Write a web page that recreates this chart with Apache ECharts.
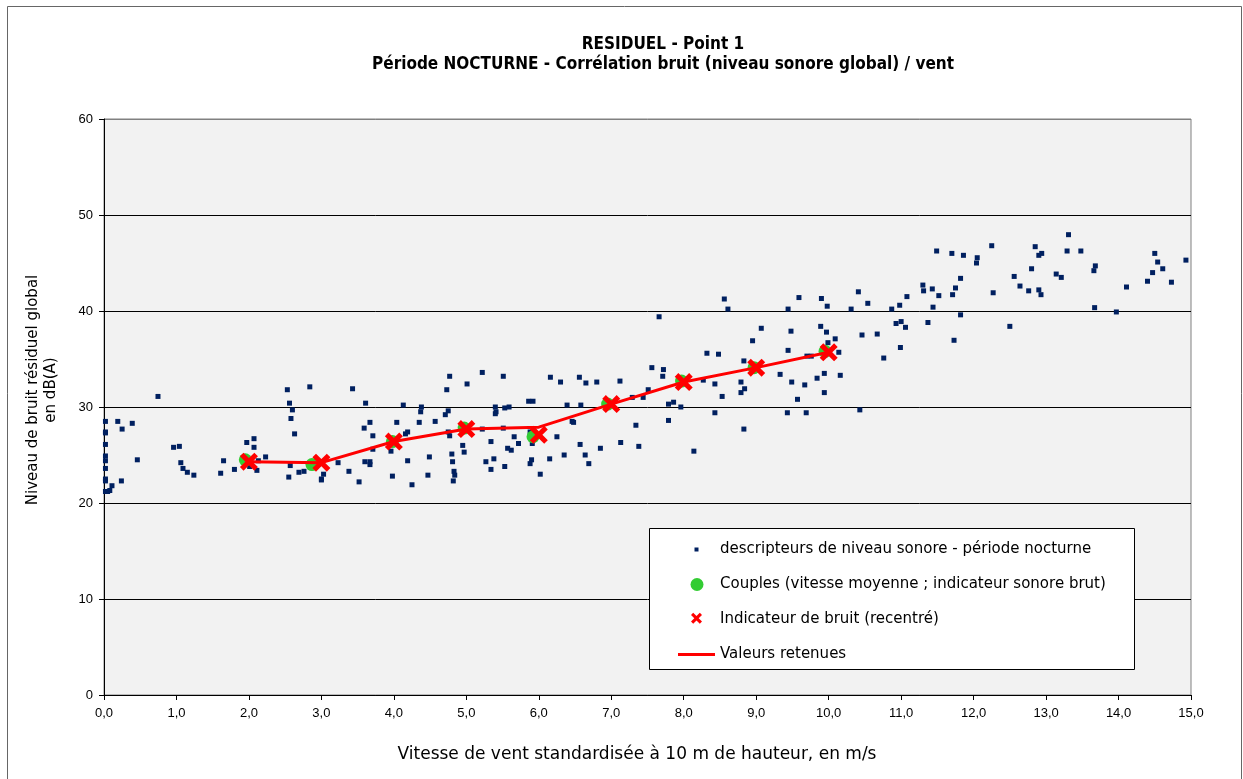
<!DOCTYPE html>
<html>
<head>
<meta charset="utf-8">
<script src="https://cdn.jsdelivr.net/npm/echarts@6/dist/echarts.min.js"></script>
<style>
html,body{margin:0;padding:0;background:#fff;}
#chart{width:1243px;height:779px;}
</style>
</head>
<body>
<div id="chart"></div>
<script>
// ---------- DATA ----------
const titleLines = ['RESIDUEL - Point 1', 'Période NOCTURNE - Corrélation bruit (niveau sonore global) / vent'];
const xAxisTitle = 'Vitesse de vent standardisée à 10 m de hauteur, en m/s';
const yAxisTitle = ['Niveau de bruit résiduel global', 'en dB(A)'];
const legendNames = [
  'descripteurs de niveau sonore - période nocturne',
  'Couples (vitesse moyenne ; indicateur sonore brut)',
  'Indicateur de bruit (recentré)',
  'Valeurs retenues'
];

// descripteurs [vitesse m/s, niveau dB(A)]
const descriptors = [
  [0.02,28.5],[0.02,27.4],[0.02,27.3],[0.02,26.1],[0.02,24.9],[0.02,24.4],[0.02,23.6],[0.02,22.5],[0.02,22.3],[0.02,21.2],
  [0.19,28.5],[0.25,27.7],[0.39,28.3],[0.46,24.5],[0.24,22.3],[0.11,21.8],[0.08,21.3],[0.05,21.2],[0.745,31.1],
  [0.96,25.8],[1.04,25.9],[1.06,24.2],[1.09,23.6],[1.15,23.2],[1.24,22.9],[1.61,23.1],[1.65,24.4],[1.80,23.5],
  [1.97,26.3],[2.07,26.7],[2.07,25.8],[2.13,24.4],[2.01,23.8],[2.11,23.4],[2.23,24.8],[2.53,31.8],[2.56,30.4],
  [2.60,29.7],[2.58,28.8],[2.63,27.2],[2.84,32.1],[2.57,23.9],[2.55,22.7],[2.69,23.2],[2.76,23.3],
  [3.43,31.9],[3.61,30.4],[3.67,28.4],[3.59,27.8],[3.71,27.0],[3.71,25.6],[4.04,28.4],[4.13,30.2],[4.38,30.0],
  [4.37,29.5],[4.35,28.4],[4.57,28.5],[4.77,33.2],[4.73,31.8],[5.01,32.4],[5.22,33.6],[4.75,29.6],[4.71,29.2],
  [5.40,30.0],[5.41,29.5],[5.40,29.3],[4.16,27.2],[4.19,27.4],[3.96,25.4],[4.75,27.4],[4.77,27.0],[5.22,27.7],
  [5.34,26.4],[4.95,26.0],[4.97,25.3],[4.80,25.1],[4.81,24.3],[4.83,23.3],[4.84,22.9],[4.82,22.3],[5.27,24.3],
  [5.38,24.6],[5.34,23.5],[4.49,24.8],[4.47,22.9],[4.19,24.4],[4.25,21.9],[3.98,22.8],[3.60,24.3],[3.67,24.3],
  [3.67,24.0],[3.52,22.2],[3.38,23.3],[3.23,24.2],[3.03,23.0],[3.00,22.5],[3.00,22.4],
  [5.51,33.2],[6.16,33.1],[6.30,32.6],[6.56,33.1],[6.65,32.5],[6.80,32.6],[7.12,32.7],[7.56,34.1],[7.72,33.9],
  [7.71,33.2],[5.53,29.9],[5.59,30.0],[5.86,30.6],[5.92,30.6],[6.39,30.2],[6.58,30.2],[7.29,31.0],[7.44,31.0],
  [7.51,31.8],[7.79,30.3],[7.86,30.5],[7.96,30.0],[7.79,28.6],[7.34,28.1],[5.51,27.8],[6.46,28.5],[6.48,28.4],
  [5.66,26.9],[5.72,26.2],[5.57,25.7],[5.62,25.5],[5.88,27.4],[5.91,26.2],[6.25,26.9],[5.53,23.8],[5.90,24.5],
  [5.88,24.1],[6.02,23.0],[6.15,24.6],[6.35,25.0],[6.57,26.1],[6.64,25.0],[6.69,24.1],[6.85,25.7],[7.13,26.3],
  [7.38,25.9],[7.66,39.4],
  [8.56,41.25],[8.61,40.2],[9.44,40.2],[9.59,41.4],[9.90,41.3],[9.98,40.5],[10.31,40.2],[10.41,42.0],[10.54,40.8],
  [9.07,38.2],[8.95,36.9],[9.48,37.9],[9.89,38.4],[9.97,37.8],[9.99,36.7],[10.09,37.1],[10.46,37.5],[10.67,37.6],
  [8.32,35.6],[8.48,35.5],[8.83,34.8],[9.44,35.9],[9.70,35.3],[9.76,35.3],[10.14,35.7],[8.27,32.8],[8.43,32.4],
  [8.53,31.1],[8.79,32.6],[8.84,31.9],[8.79,31.5],[9.33,33.4],[9.49,32.6],[9.67,32.3],[9.84,33.0],[9.94,33.5],
  [10.16,33.3],[9.57,30.8],[9.94,31.5],[8.43,29.4],[9.43,29.4],[9.69,29.4],[10.43,29.7],[8.83,27.7],[8.14,25.4],
  [10.76,35.1],
  [10.99,36.2],[10.87,40.2],[10.98,40.6],[10.93,38.7],[11.00,38.9],[11.06,38.3],[11.08,41.5],[11.30,42.7],
  [11.31,42.1],[11.43,42.3],[11.52,41.6],[11.44,40.4],[11.37,38.8],[11.49,46.25],[11.70,46.0],[11.86,45.8],
  [11.71,41.7],[11.75,42.4],[11.82,43.4],[11.82,39.6],[11.73,36.95],[12.05,45.55],[12.04,45.0],[12.25,46.8],
  [12.27,41.9],[12.50,38.4],[12.56,43.6],[12.64,42.6],[12.76,42.1],[12.80,44.4],[12.85,46.7],[12.90,45.8],
  [12.94,46.0],[12.90,42.2],[12.93,41.7],[13.14,43.85],[13.21,43.5],[13.31,47.95],[13.29,46.25],[13.48,46.25],
  [13.68,44.7],[13.66,44.2],[13.67,40.35],[13.97,39.9],[14.11,42.5],[14.40,43.1],[14.47,44.0],[14.50,46.0],
  [14.54,45.1],[14.61,44.4],[14.73,43.0],[14.93,45.3]
];

// couples (vitesse moyenne ; indicateur sonore brut)
const couples = [[1.95,24.5],[2.87,24.0],[3.98,26.4],[4.97,27.8],[5.92,26.9],[6.95,30.3],[7.97,32.7],[8.97,34.1],[9.95,35.8]];
// indicateur de bruit (recentré)
const indicators = [[2,24.3],[3,24.2],[4,26.4],[5,27.7],[6,27.1],[7,30.3],[8,32.6],[9,34.1],[10,35.7]];
// valeurs retenues
const retained = [[2,24.3],[3,24.2],[4,26.4],[5,27.7],[6,27.9],[7,30.3],[8,32.6],[9,34.1],[10,35.7]];

// ---------- STYLE ----------
const NAVY = '#002060', GREEN = '#33cc33', RED = '#ff0000';
const xMarker = 'path://M0,2L2,0L5,3L8,0L10,2L7,5L10,8L8,10L5,7L2,10L0,8L3,5Z';
// legend icons drawn in a 37x15 box (moveTo points fix the box)
const icoSquare = 'path://M0,0M37,15M16.5,5.5h4v4h-4z';
const icoCircle = 'path://M0,0M37,15M12.5,7.5a6.5,6.5 0 1,0 13,0a6.5,6.5 0 1,0 -13,0z';
const icoX = 'path://M0,0M37,15M13,3L15.2,0.8L18.5,4.1L21.8,0.8L24,3L20.7,6.3L24,9.6L21.8,11.8L18.5,8.5L15.2,11.8L13,9.6L16.3,6.3Z';
const icoLine = 'path://M0,0M37,15M0,6h37v3h-37z';

const chart = echarts.init(document.getElementById('chart'), null, {renderer: 'canvas'});
const tickFont = {fontFamily: 'Liberation Sans', fontSize: 13, color: '#000'};
const textFont = 'DejaVu Sans';

chart.setOption({
  backgroundColor: '#fff',
  animation: false,
  grid: {
    left: 104, right: 52, top: 119, bottom: 84,
    show: true, backgroundColor: '#f2f2f2', borderColor: '#808080', borderWidth: 1
  },
  xAxis: {
    type: 'value', min: 0, max: 15, interval: 1,
    axisLine: {show: true, onZero: false, lineStyle: {color: '#000', width: 1}},
    axisTick: {show: true, length: 5, lineStyle: {color: '#000'}},
    axisLabel: Object.assign({margin: 12, formatter: v => v.toFixed(1).replace('.', ',')}, tickFont),
    splitLine: {show: false}
  },
  yAxis: {
    type: 'value', min: 0, max: 60, interval: 10,
    axisLine: {show: true, onZero: false, lineStyle: {color: '#000', width: 1}},
    axisTick: {show: true, length: 5, lineStyle: {color: '#000'}},
    axisLabel: Object.assign({margin: 11}, tickFont),
    splitLine: {show: true, lineStyle: {color: ['#000','#000','#000','#000','#000','#000','#808080'], width: 1}}
  },
  legend: {
    orient: 'vertical',
    left: 678, top: 542,
    padding: 0,
    itemWidth: 37, itemHeight: 15, itemGap: 20,
    itemStyle: {borderWidth: 0, opacity: 1},
    textStyle: {fontFamily: textFont, fontSize: 15, lineHeight: 15, color: '#000'},
    z: 10,
    data: [
      {name: legendNames[0], icon: icoSquare},
      {name: legendNames[1], icon: icoCircle},
      {name: legendNames[2], icon: icoX},
      {name: legendNames[3], icon: icoLine}
    ]
  },
  graphic: [
    {type: 'rect', silent: true, z: -1, shape: {x: 7.5, y: 6.5, width: 1234, height: 800},
     style: {fill: 'none', stroke: '#666', lineWidth: 1}},
    {type: 'rect', silent: true, z: 5, shape: {x: 649.5, y: 528.5, width: 485, height: 141},
     style: {fill: '#fff', stroke: '#000', lineWidth: 1}},
    {type: 'text', silent: true, x: 663, y: 45,
     style: {text: titleLines[0], textAlign: 'center', textVerticalAlign: 'middle', font: 'bold 17px "DejaVu Sans Condensed"', fill: '#000'}},
    {type: 'text', silent: true, x: 663, y: 65,
     style: {text: titleLines[1], textAlign: 'center', textVerticalAlign: 'middle', font: 'bold 17px "DejaVu Sans Condensed"', fill: '#000'}},
    {type: 'text', silent: true, x: 637, y: 755,
     style: {text: xAxisTitle, textAlign: 'center', textVerticalAlign: 'middle', font: '17px "DejaVu Sans"', fill: '#000'}},
    {type: 'text', silent: true, x: 42, y: 390, rotation: Math.PI / 2,
     style: {text: yAxisTitle.join('\n'), textAlign: 'center', textVerticalAlign: 'middle', lineHeight: 18, font: '15px "DejaVu Sans"', fill: '#000'}}
  ],
  series: [
    {name: legendNames[0], type: 'scatter', data: descriptors, symbol: 'rect', symbolSize: 5,
     itemStyle: {color: NAVY, opacity: 1}, z: 2},
    {name: legendNames[1], type: 'scatter', data: couples, symbol: 'circle', symbolSize: 13,
     itemStyle: {color: GREEN, opacity: 1}, z: 3},
    {name: legendNames[3], type: 'line', data: retained, symbol: 'none', showSymbol: false,
     lineStyle: {color: RED, width: 3}, itemStyle: {color: RED}, z: 4},
    {name: legendNames[2], type: 'scatter', data: indicators, symbol: xMarker, symbolSize: 18,
     itemStyle: {color: RED, opacity: 1}, z: 4}
  ]
});
</script>
</body>
</html>
